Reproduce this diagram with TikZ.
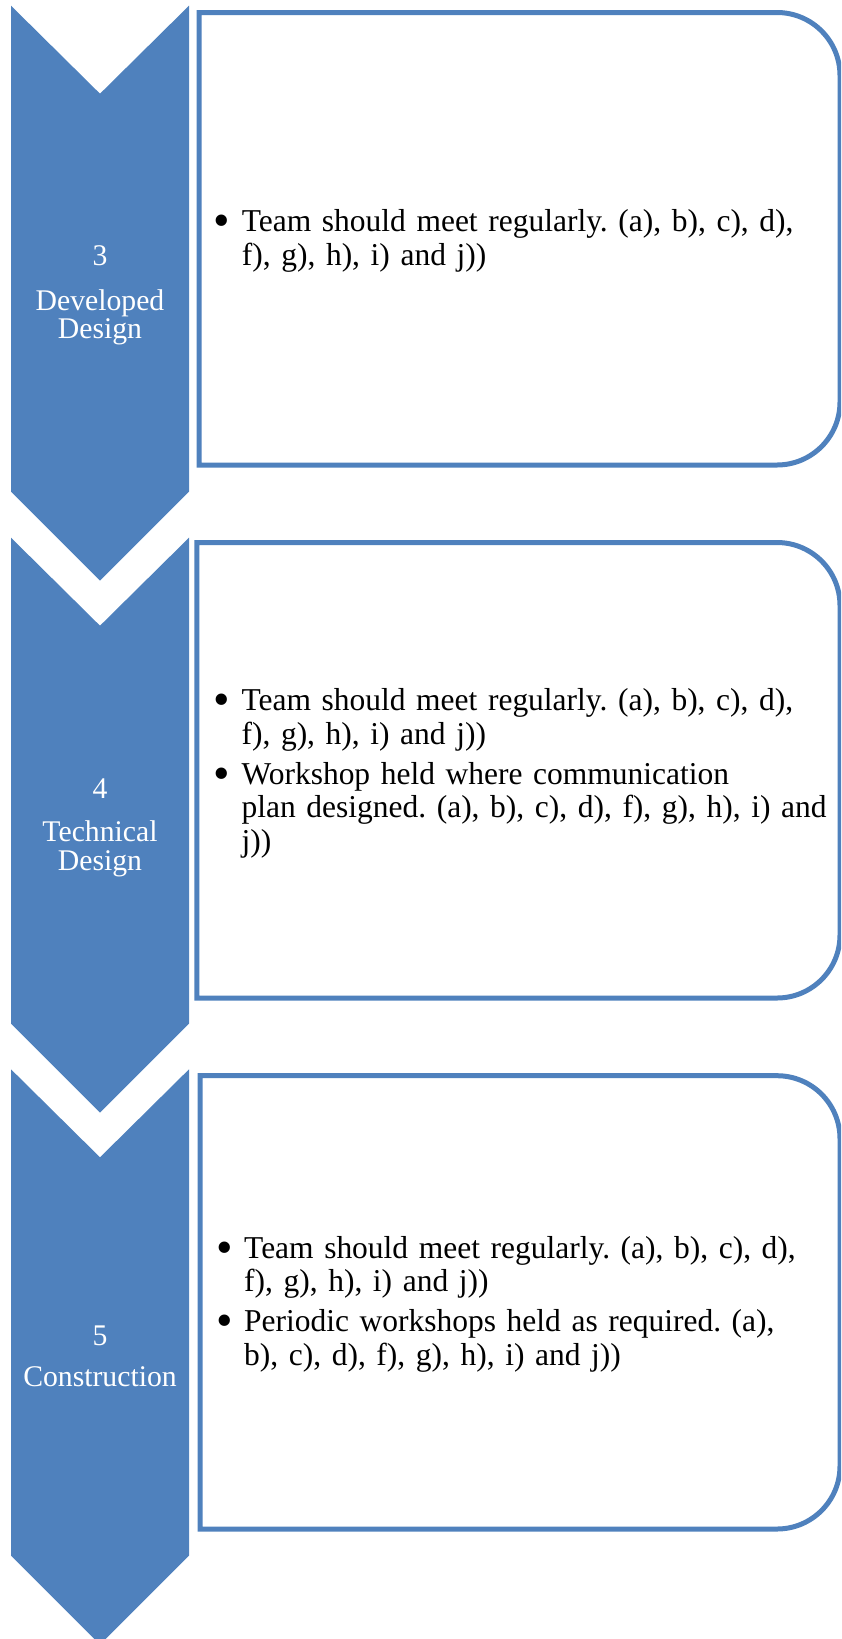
\documentclass[tikz,border=0pt]{standalone}
\usepackage{fontspec}
\setmainfont{Liberation Serif}[FakeStretch=0.99]
\definecolor{chevblue}{RGB}{79,129,189}
\newcommand{\bul}{\makebox[24pt][l]{\hspace*{-4pt}\raisebox{-5pt}{\scalebox{1.5}{•}}}}
\newcommand{\ind}{\hspace*{24pt}}
\frenchspacing
\tikzset{
  chev/.style={fill=chevblue, draw=none},
  panel/.style={draw=chevblue, line width=5pt, fill=white},
  lbl/.style={text=white, font=\fontsize{30}{28.3}\selectfont, align=center, text width=178pt, inner sep=0pt, anchor=base},
  itm/.style={text=black, font=\fontsize{31.8}{33.5}\selectfont\frenchspacing, align=left, text width=700pt, inner sep=0pt, anchor=base west},
}
\begin{document}
\begin{tikzpicture}[x=1pt,y=-1pt]
\useasboundingbox (0,0) rectangle (841,1639);
\clip (0,0) rectangle (841,1639);
% chevrons
\path[chev] (11,5.7) -- (100,93.7) -- (189,5.7) -- (189,491.7) -- (100,580.7) -- (11,491.7) -- cycle;
\path[chev] (11,537.7) -- (100,625.7) -- (189,537.7) -- (189,1023.7) -- (100,1112.7) -- (11,1023.7) -- cycle;
\path[chev] (11,1069.3) -- (100,1157.3) -- (189,1069.3) -- (189,1555.5) -- (100,1644.5) -- (11,1555.5) -- cycle;
% panels
\draw[panel] (199,12.5) -- (777,12.5) .. controls (811.8,12.5) and (840,40.7) .. (840,75.5) -- (840,402) .. controls (840,436.8) and (811.8,465) .. (777,465) -- (199,465) -- cycle;
\draw[panel] (196.8,542.5) -- (777,542.5) .. controls (811.8,542.5) and (840,570.7) .. (840,605.5) -- (840,935) .. controls (840,969.8) and (811.8,998) .. (777,998) -- (196.8,998) -- cycle;
\draw[panel] (200,1075.7) -- (777,1075.7) .. controls (811.8,1075.7) and (840,1103.9) .. (840,1138.7) -- (840,1466) .. controls (840,1500.8) and (811.8,1529) .. (777,1529) -- (200,1529) -- cycle;
% labels
\node[lbl] (l3) at (100,265.7) {3\\[16pt]Developed\\Design};
\node[lbl] (l4) at (100,798) {4\\[15.4pt]Technical\\Design};
\node[lbl] (l5) at (100,1345) {5\\[13.4pt]Construction};
% items
\node[itm] (t3) at (217.7,231.7) {\bul Team should meet regularly. (a), b), c), d),\\\ind f), g), h), i) and j))};
\node[itm] (t4) at (217.4,710.7) {\bul Team should meet regularly. (a), b), c), d),\\\ind f), g), h), i) and j))\\[6.6pt]\bul Workshop held where communication\\\ind plan designed. (a), b), c), d), f), g), h), i) and\\\ind j))};
\node[itm] (t5) at (220,1258.3) {\bul Team should meet regularly. (a), b), c), d),\\\ind f), g), h), i) and j))\\[6.6pt]\bul Periodic workshops held as required. (a),\\\ind b), c), d), f), g), h), i) and j))};
\end{tikzpicture}
\end{document}
